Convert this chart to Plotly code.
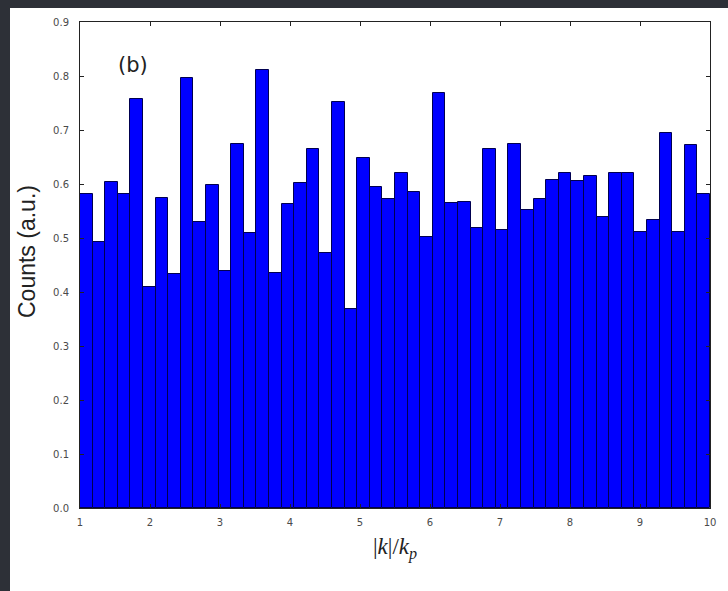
import plotly.graph_objects as go

# Histogram of |k|/k_p: 50 equal bins between 1 and 10
bin_start = 1.0
bin_width = 0.18
counts = [
    0.581, 0.493, 0.604, 0.581, 0.757, 0.410, 0.575, 0.433, 0.797, 0.530,
    0.598, 0.439, 0.674, 0.510, 0.812, 0.435, 0.563, 0.601, 0.665, 0.473,
    0.752, 0.368, 0.649, 0.595, 0.573, 0.620, 0.586, 0.502, 0.769, 0.565,
    0.567, 0.518, 0.664, 0.515, 0.674, 0.552, 0.573, 0.607, 0.620, 0.606,
    0.614, 0.538, 0.620, 0.620, 0.512, 0.533, 0.694, 0.512, 0.672, 0.581,
]
bin_centers = [bin_start + bin_width * (i + 0.5) for i in range(len(counts))]

x_ticks = [1, 2, 3, 4, 5, 6, 7, 8, 9, 10]
y_ticks = [0.0, 0.1, 0.2, 0.3, 0.4, 0.5, 0.6, 0.7, 0.8, 0.9]
y_tick_labels = ["0.0", "0.1", "0.2", "0.3", "0.4", "0.5", "0.6", "0.7", "0.8", "0.9"]

W, H = 728, 591
L, R, T, B = 80, 18, 22, 83
pw, ph = W - L - R, H - T - B


def px_x(px):
    return (px - L) / pw


def px_y(py):
    return (H - B - py) / ph


fig = go.Figure()
fig.add_trace(go.Bar(
    x=bin_centers,
    y=counts,
    width=bin_width,
    marker=dict(color="#0000ff", line=dict(color="#000050", width=1)),
    hoverinfo="x+y",
))

axis_common = dict(
    showline=True, linecolor="#222222", linewidth=1, mirror="allticks",
    ticks="inside", ticklen=4, tickcolor="#222222",
    showgrid=False, zeroline=False,
    tickfont=dict(family="DejaVu Sans", size=10, color="#4a4a4a"),
)

fig.update_layout(
    width=W, height=H,
    margin=dict(l=L, r=R, t=T, b=B),
    paper_bgcolor="#2d3037",
    plot_bgcolor="white",
    showlegend=False,
    bargap=0,
    xaxis=dict(range=[1, 10], tickvals=x_ticks, ticklabelstandoff=5, **axis_common),
    yaxis=dict(range=[0, 0.9], tickvals=y_ticks, ticktext=y_tick_labels,
               ticklabelstandoff=8, **axis_common),
    shapes=[dict(
        type="rect", xref="paper", yref="paper", layer="below",
        x0=px_x(10), x1=px_x(W + 2), y0=px_y(H + 2), y1=px_y(8),
        fillcolor="white", line=dict(width=0),
    )],
    annotations=[
        dict(text="Counts (a.u.)", xref="paper", yref="paper",
             x=px_x(27), y=px_y(251), textangle=-90, showarrow=False,
             xanchor="center", yanchor="middle",
             font=dict(family="Liberation Sans", size=23, color="#222222")),
        dict(text="|<i>k</i>|/<i>k</i><sub><i>p</i></sub>", xref="paper", yref="paper",
             x=px_x(395), y=px_y(548), showarrow=False,
             xanchor="center", yanchor="middle",
             font=dict(family="Liberation Serif", size=23, color="#222222")),
        dict(text="(b)", xref="paper", yref="paper",
             x=px_x(133), y=px_y(65), showarrow=False,
             xanchor="center", yanchor="middle",
             font=dict(family="DejaVu Sans", size=21, color="#222222")),
    ],
)

fig.write_html("out.html")
